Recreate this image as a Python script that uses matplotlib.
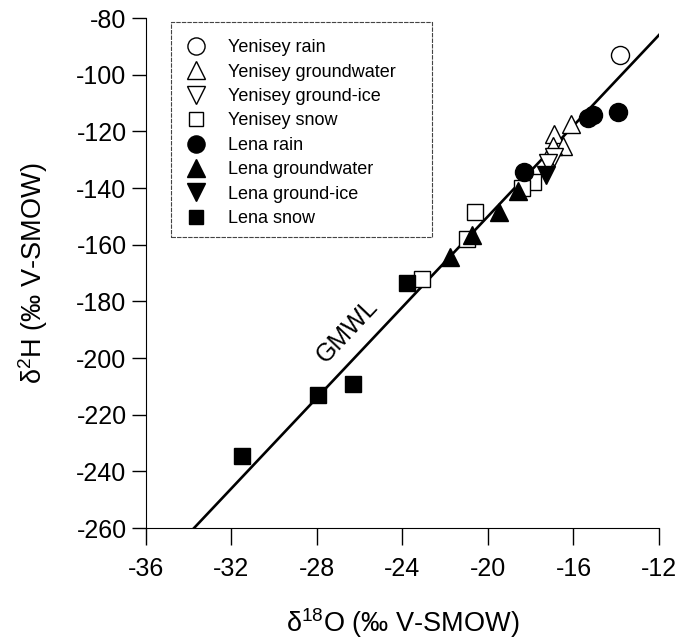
import matplotlib
matplotlib.use("Agg")
import matplotlib.pyplot as plt
from matplotlib.patches import Rectangle
import numpy as np

plt.rcParams['font.family'] = ['Liberation Sans', 'DejaVu Sans']
plt.rcParams['mathtext.fontset'] = 'custom'
plt.rcParams['mathtext.rm'] = 'Liberation Sans'
plt.rcParams['mathtext.it'] = 'Liberation Sans'
plt.rcParams['mathtext.default'] = 'rm'
plt.rcParams['axes.unicode_minus'] = False

# Data (δ18O, δ2H)
yen_rain_x = [-13.8]
yen_rain_y = [-93]
yen_gw_x = [-16.1, -16.9, -16.5, -16.95]
yen_gw_y = [-117.5, -121, -125.3, -125]
yen_ice_x = [-16.9, -17.2]
yen_ice_y = [-129, -131]
yen_snow_x = [-17.9, -18.4, -20.6, -21.0, -23.1]
yen_snow_y = [-138, -140, -148.5, -158, -172]
lena_rain_x = [-13.9, -15.1, -15.3, -18.3]
lena_rain_y = [-113.3, -114.2, -115.3, -134.3]
lena_gw_x = [-18.6, -19.5, -20.75, -21.8]
lena_gw_y = [-141, -148.5, -156.5, -164.4]
lena_ice_x = [-17.3]
lena_ice_y = [-135.4]
lena_snow_x = [-23.8, -27.95, -26.3, -31.5]
lena_snow_y = [-173.5, -213, -209, -234.5]

gmwl_x = [-33.75, -12]

fig = plt.figure(figsize=(6.79, 6.39), dpi=100)
ax = fig.add_axes([0.215, 0.1737, 0.7555, 0.7981])

gx = np.array(gmwl_x)
ax.plot(gx, 8 * gx + 10, color='black', lw=1.9, zorder=1)

kw_open = dict(mfc='white', mec='black', mew=1.0, ls='none', color='black')
kw_fill = dict(mfc='black', mec='black', ls='none', color='black')

ax.plot(yen_rain_x, yen_rain_y, marker='o', ms=13, label='Yenisey rain', **kw_open)
ax.plot(yen_gw_x, yen_gw_y, marker='^', ms=13.5, label='Yenisey groundwater', **kw_open)
ax.plot(yen_ice_x, yen_ice_y, marker='v', ms=13.5, label='Yenisey ground-ice', **kw_open)
ax.plot(yen_snow_x, yen_snow_y, marker='s', ms=11, label='Yenisey snow', **kw_open)
ax.plot(lena_rain_x, lena_rain_y, marker='o', ms=13, label='Lena rain', **kw_fill)
ax.plot(lena_gw_x, lena_gw_y, marker='^', ms=13.5, label='Lena groundwater', **kw_fill)
ax.plot(lena_ice_x, lena_ice_y, marker='v', ms=13.5, label='Lena ground-ice', **kw_fill)
ax.plot(lena_snow_x, lena_snow_y, marker='s', ms=11, label='Lena snow', **kw_fill)

ax.set_xlim(-36, -12)
ax.set_ylim(-260, -80)
ax.set_xticks(np.arange(-36, -11, 4))
ax.set_yticks(np.arange(-260, -79, 20))
ax.spines['top'].set_visible(False)
ax.spines['right'].set_visible(False)
ax.tick_params(axis='x', direction='out', length=12, width=1, labelsize=18, pad=9)
ax.tick_params(axis='y', direction='out', length=10, width=1, labelsize=18, pad=4)

ax.set_xlabel(r'δ$^{18}$O (‰ V-SMOW)', fontsize=19.5, labelpad=18)
ax.set_ylabel(r'δ$^{2}$H (‰ V-SMOW)', fontsize=19.5, labelpad=19)

ax.text(-26.6, -190.5, 'GMWL', fontsize=18, rotation=46.7,
        ha='center', va='center', rotation_mode='anchor')

leg = ax.legend(loc='upper left', bbox_to_anchor=(0.0487, 0.992), fontsize=13,
                frameon=False, borderpad=0.95, labelspacing=0.41,
                handletextpad=1.33, handlelength=0.9, borderaxespad=0,
                markerscale=0.95)

frame = Rectangle((0.0487, 0.5706), 0.5088, 0.4214, transform=ax.transAxes,
                  fill=False, edgecolor='#444444', lw=0.8,
                  linestyle=(0, (4, 1)), zorder=5)
ax.add_patch(frame)

fig.savefig('out.png', dpi=100)
